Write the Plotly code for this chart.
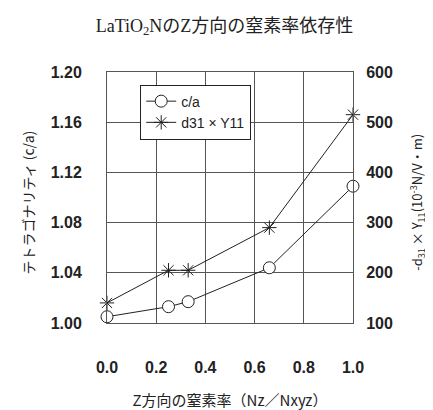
import plotly.graph_objects as go

x_ratio = [0.0, 0.25, 0.33, 0.66, 1.0]
ca_values = [1.005, 1.013, 1.017, 1.044, 1.109]
d31y11_values = [140, 205, 205, 290, 515]

x_ticks = [0.0, 0.2, 0.4, 0.6, 0.8, 1.0]
x_tick_labels = ["0.0", "0.2", "0.4", "0.6", "0.8", "1.0"]
y1_ticks = [1.00, 1.04, 1.08, 1.12, 1.16, 1.20]
y1_tick_labels = ["1.00", "1.04", "1.08", "1.12", "1.16", "1.20"]
y2_ticks = [100, 200, 300, 400, 500, 600]

JP = "Noto Sans CJK JP"
TICK = dict(size=16, family="Liberation Sans", weight="bold", color="#222")
fig = go.Figure()
fig.add_trace(go.Scatter(
    x=x_ratio, y=ca_values, name="c/a", mode="lines+markers",
    line=dict(color="#222", width=1),
    marker=dict(symbol="circle", size=12, color="white", line=dict(color="#222", width=1)),
    cliponaxis=False,
))
fig.add_trace(go.Scatter(
    x=x_ratio, y=d31y11_values, name="d31 × Y11", mode="lines+markers", yaxis="y2",
    line=dict(color="#222", width=1),
    marker=dict(symbol="asterisk-open", size=12, color="#222", line=dict(color="#222", width=1)),
    cliponaxis=False,
))

fig.update_layout(
    width=433, height=410,
    margin=dict(l=99, r=88, t=64, b=95),
    paper_bgcolor="white", plot_bgcolor="white",
    font=dict(family=JP, color="#222"),
    title=dict(text="LaTiO<sub>2</sub>NのZ方向の窒素率依存性", x=0.5, xanchor="center",
               y=0.958, yanchor="middle",
               font=dict(size=18, family="Liberation Serif, Noto Sans CJK JP")),
    showlegend=True,
    legend=dict(x=0.135, y=0.95, xanchor="left", yanchor="top",
                bgcolor="white", bordercolor="#222", borderwidth=1,
                font=dict(size=14, family="Liberation Sans"), tracegroupgap=0,
                itemwidth=30),
    xaxis=dict(range=[0, 1.0], tickvals=x_ticks, ticktext=x_tick_labels,
               showgrid=True, gridcolor="#555", gridwidth=1,
               showline=True, linecolor="#555", mirror=True,
               ticks="outside", ticklen=30, tickcolor="rgba(0,0,0,0)",
               zeroline=False, tickfont=TICK,
               title=dict(text="Z方向の窒素率（Nz／Nxyz）", font=dict(size=15, family=JP), standoff=20)),
    yaxis=dict(range=[1.0, 1.2], tickvals=y1_ticks, ticktext=y1_tick_labels,
               showgrid=True, gridcolor="#555", gridwidth=1,
               showline=True, linecolor="#555", mirror=True,
               ticks="outside", ticklen=21, tickcolor="rgba(0,0,0,0)",
               zeroline=False, tickfont=TICK),
    yaxis2=dict(range=[100, 600], tickvals=y2_ticks, overlaying="y", side="right",
                showgrid=False, zeroline=False,
                ticks="outside", ticklen=9, tickcolor="rgba(0,0,0,0)",
                tickfont=TICK),
    annotations=[
        dict(text="テトラゴナリティ (c/a)", xref="paper", yref="paper",
             x=-0.325, y=0.48, xanchor="center", yanchor="middle", textangle=-90,
             showarrow=False, font=dict(size=14, family=JP, color="#222")),
        dict(text="-d<sub>31</sub> × Y<sub>11</sub>(10<sup>-3</sup>N/V・m)", xref="paper", yref="paper",
             x=1.2575, y=0.48, xanchor="center", yanchor="middle", textangle=-90,
             showarrow=False, font=dict(size=13, family=JP, color="#222")),
    ],
)

fig.write_html("out.html")
